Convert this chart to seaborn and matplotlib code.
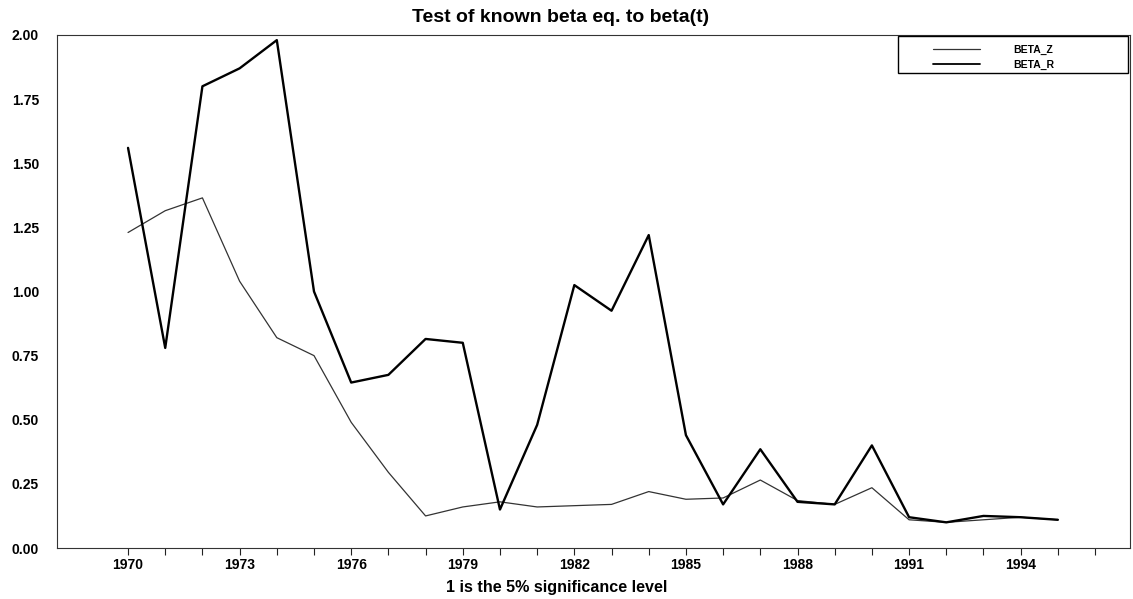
import numpy as np
import pandas as pd
import matplotlib
matplotlib.use("Agg")
import matplotlib.pyplot as plt
import seaborn as sns
from matplotlib.ticker import MultipleLocator, FormatStrFormatter
from matplotlib.lines import Line2D
from matplotlib.patches import Rectangle

years = list(range(1970, 1996))
beta_r = [1.56, 0.78, 1.80, 1.87, 1.98, 1.00, 0.645, 0.675, 0.815, 0.80,
          0.15, 0.48, 1.025, 0.925, 1.22, 0.44, 0.17, 0.385, 0.18, 0.17,
          0.40, 0.12, 0.10, 0.125, 0.12, 0.11]
beta_z = [1.23, 1.315, 1.365, 1.04, 0.82, 0.75, 0.49, 0.295, 0.125, 0.16,
          0.18, 0.16, 0.165, 0.17, 0.22, 0.19, 0.195, 0.265, 0.185, 0.17,
          0.235, 0.11, 0.10, 0.11, 0.12, 0.11]
series_names = ["BETA_Z", "BETA_R"]
title = "Test of known beta eq. to beta(t)"
xlabel = "1 is the 5% significance level"

df = pd.DataFrame({
    "year": years * 2,
    "value": beta_z + beta_r,
    "series": [series_names[0]] * len(years) + [series_names[1]] * len(years),
})

sns.set_theme(style="white")
plt.rcParams['font.family'] = ['Liberation Sans', 'DejaVu Sans']
plt.rcParams['text.color'] = 'black'
plt.rcParams['axes.labelcolor'] = 'black'

fig = plt.figure(figsize=(11.33, 5.99), dpi=100)
ax = fig.add_axes([57/1133, 1 - 548/599, (1130-57)/1133, (548-35)/599])

sns.lineplot(data=df, x="year", y="value", hue="series", hue_order=series_names,
             palette={"BETA_Z": "#333333", "BETA_R": "#000000"},
             size="series", sizes={"BETA_Z": 0.9, "BETA_R": 1.7},
             ax=ax, legend=False)

ax.set_xlim(1968.09, 1996.94)
ax.set_ylim(0, 2.0)
ax.set_xticks(list(range(1970, 1996, 3)))
ax.set_xticks(list(range(1970, 1997)), minor=True)
ax.yaxis.set_major_locator(MultipleLocator(0.25))
ax.yaxis.set_major_formatter(FormatStrFormatter("%.2f"))
ax.tick_params(axis="x", which="both", direction="out", length=5, width=0.8,
               colors="#222222", labelsize=10, bottom=True, pad=2.5)
ax.tick_params(axis="y", length=0, labelsize=10, pad=13)
for lab in ax.get_xticklabels() + ax.get_yticklabels():
    lab.set_fontweight("bold")
    lab.set_color("black")

for s in ax.spines.values():
    s.set_color("#333333")
    s.set_linewidth(0.8)

ax.set_xlabel(xlabel, fontsize=11.6, fontweight="bold", color="black")
ax.xaxis.set_label_coords(0.466, -0.062)
ax.set_ylabel("")
ax.set_title(title, fontsize=14, fontweight="bold", pad=9, color="black", x=0.469)

# legend box
ax.add_patch(Rectangle((0.7838, 0.926), 0.2144, 0.0721, transform=ax.transAxes,
                       fill=False, edgecolor="black", linewidth=1.0, clip_on=False,
                       zorder=5))
handles = [Line2D([], [], color="#333333", lw=0.9),
           Line2D([], [], color="#000000", lw=1.3)]
leg = ax.legend(handles, series_names, loc="upper left",
                bbox_to_anchor=(0.8164, 0.981),
                prop={"weight": "bold", "size": 7.5}, handlelength=4.5,
                handletextpad=3.2, frameon=False,
                borderaxespad=0, labelspacing=0.45, borderpad=0)

fig.savefig("out.png", dpi=100)
